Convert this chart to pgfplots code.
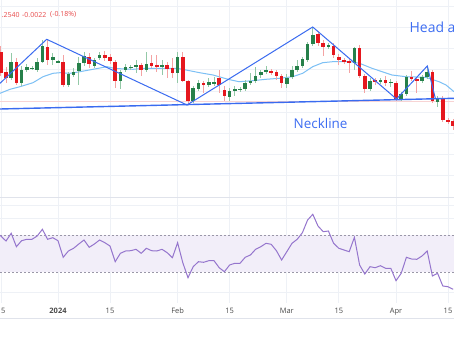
\documentclass[border=0pt]{standalone}
\usepackage{pgfplots}
\pgfplotsset{compat=1.18}
\usepackage{pgfplotstable}
\usepackage{fontspec}
\setmainfont{Open Sans}

\definecolor{cgreen}{HTML}{26804A}
\definecolor{cred}{HTML}{E5171E}
\definecolor{wgreen}{HTML}{93C9A7}
\definecolor{wred}{HTML}{F4A3A3}
\definecolor{gridc}{HTML}{EEF1F6}
\definecolor{sepc}{HTML}{E0E3EB}
\definecolor{tlblue}{HTML}{3A6BF0}
\definecolor{mablue}{HTML}{7CC0F5}
\definecolor{txtblue}{HTML}{3D6DF2}
\definecolor{rsic}{HTML}{9575CD}
\definecolor{bandc}{HTML}{F2EEF9}
\definecolor{dashc}{HTML}{9A97A8}
\definecolor{pinkc}{HTML}{F8D4D4}
\definecolor{toptxt}{HTML}{E84B4B}
\definecolor{tickc}{HTML}{4A4A4A}

% candles: i open high low close (pixel y, smaller = higher price)
\pgfplotstableread{
i o h l c
-9 78 53 80 62
-7 83 66 86 70
-6 70 64 72 67.5
-5 68.5 66 70 68
-4 70 58 72 62
-3 62 40 63 46
-1 60 53 65 57
0 62 60 63 61.5
2 85 72 87 74
3 75 68 77 72
4 71.5 57 85 63.5
5 63 52 66 56
7 66 58 68 60
8 58 52 60 55
12 81.5 70 89 72
13 70 64 72 67
14 67.5 65 70 67
15 67 60 73 65
17 70 52 72 64
20 66.5 60 75 65
23 73 52 83 57
26 101.5 86 103 88
27 89 80 91 83.5
29 85 78 87 82.5
30 84 77 86 82
33 97 88 101.5 91
34 91 86 96 89.5
35 89.5 87 92 89
36 89 80 91 83.5
37 83.5 73 85 81.5
38 81.5 67 83 76
39 75 70 78 72.5
40 72.5 66 74 70.5
44 84 74 88 78
45 77.5 66 79 70
46 70 60 72 66.5
47 66.5 57 68 59.5
48 60 42 62 44
49 44.5 27 46 35
52 46.5 43 49 45.5
57 62.7 47 70 48.5
60 89 78 91 81
62 82.5 78 84 80.5
64 82.5 79 87 82
66 99.3 92 101 94.5
67 94.5 75 96 77.3
70 81 75 83 77.3
71 77.3 66.5 79 72
73 102 96 106.7 99
}\upT

\pgfplotstableread{
i o h l c
-11 52 46 76 73
-10 72 67 83 78
-8 62 58 85 83
-2 47 40 65 60
1 62 55 87 85
6 57 53 68 64
9 55 51 61 58
10 57 54 64 61
11 62 60 88 81.5
16 65.5 63 76 70
18 63.5 55 68 66
19 65 55 72 67
21 65 62 78 69
22 68 58 78 73
24 57 52 82 81.5
25 81.5 80 105 101.5
28 83.5 81 93 85
31 78 70 93 85
32 90 86 101.5 96.5
41 71.5 69 75 73
42 72 70 80 76.5
43 76.5 74 88 83.5
50 34 31 46 43.5
51 43 40 56 47
53 46 43 58 55.5
54 57 54 65 60
55 60 58 64 61.7
56 60.7 58 73 63
58 48.5 45 78 76
59 76 74 93 89
61 80.5 78 85 82.5
63 80 76 86 83.3
65 83.3 81 101 99
68 77.3 71.5 81 79.5
69 79.3 77 93 81
72 72 70 103 101.5
74 99 96 122 120
75 120 118 124 121.7
76 121.5 119 130 126.5
}\downT

\pgfplotstableread{
i r
-12 232
-11 236
-10 241
-9 233.3
-8 246.7
-7 240.7
-6 239.3
-5 239.3
-4 236
-3 229.3
-2 239.3
-1 237.7
0 240.7
1 257.3
2 251
3 248.3
4 244
5 240
6 247.3
7 244
8 240
9 242.7
10 246
11 261.7
12 253.3
13 251
14 250.7
15 249.3
16 253.3
17 248.3
18 250.7
19 251
20 249.3
21 252.7
22 257.7
23 242.7
24 262.7
25 277.7
26 266.7
27 261.7
28 262.3
29 260.7
30 260.7
31 267.7
32 271.7
33 265
34 263.3
35 263.3
36 257.3
37 255
38 249.3
39 246.7
40 243.3
41 244.3
42 250.7
43 260
44 251.7
45 243.3
46 239.3
47 232.7
48 220
49 214.3
50 226
51 231.7
52 231
53 243.3
54 248.3
55 250
56 251.7
57 237.3
58 265
59 274
60 266.7
61 267.7
62 265.7
63 268.3
64 268.3
65 280.7
66 273.3
67 257.3
68 259
69 259.3
70 256
71 251
72 276
73 273.3
74 286
75 286.7
76 289.3
}\rsiT

\pgfplotsset{
  wick/.style={draw=none, mark=none, forget plot,
    error bars/.cd, y dir=both, y explicit, error mark=none,
    error bar style={draw=#1, line width=1bp}},
  body/.style={draw=none, mark=none, forget plot,
    error bars/.cd, y dir=both, y explicit, error mark=none,
    error bar style={draw=#1, line width=3.6bp}},
}

\begin{document}
\begin{tikzpicture}
\useasboundingbox (0,0) rectangle (454bp,341bp);
\fill[white] (0,0) rectangle (454bp,341bp);
\clip (0,0) rectangle (454bp,341bp);

% ---------- main price panel ----------
\begin{axis}[
  at={(0,341bp)}, anchor=north west,
  width=454bp, height=197bp, scale only axis,
  xmin=0, xmax=454, ymin=0, ymax=197, y dir=reverse,
  axis line style={draw=none},
  xtick={1,58,110,177.6,229.6,286.8,338.8,396,448}, xticklabels={},
  ytick={6.7,27.8,48.8,69.9,91,112,133.1,154.2,175.3}, yticklabels={},
  major tick length=0pt,
  grid=major, grid style={gridc, line width=0.8bp},
  clip=true,
]
\addplot[pinkc, line width=1bp] coordinates {(0,101.7) (454,101.7)};
\addplot[mablue, line width=1bp] coordinates {
(0,93.3) (10,89.3) (20,86.7) (33,82.7) (43,76.7) (53,73.3) (60,72.7) (70,73.3)
(80,71.7) (93,69.3) (107,66.7) (115,68.5) (133,69.3) (146,68.3) (166,68.3)
(178,68.5) (186,70) (199.7,72.7) (213,75) (228,79.3) (239,81.7) (252.7,80.7)
(266,79.3) (279.3,78.3) (292.7,76.7) (302.7,73.3) (312.7,66.7) (322.7,62.7)
(332.7,61.7) (341,61.5) (353,62) (360,63.5) (372,68.3) (392,75) (405.7,76.7)
(425.7,77.3) (439,81.7) (446,85) (454,91.7)};
% wicks
\addplot[wick=wgreen] table[x expr=58+5.2*\thisrow{i}, y expr=(\thisrow{h}+\thisrow{l})/2, y error expr=(\thisrow{l}-\thisrow{h})/2] {\upT};
\addplot[wick=wred] table[x expr=58+5.2*\thisrow{i}, y expr=(\thisrow{h}+\thisrow{l})/2, y error expr=(\thisrow{l}-\thisrow{h})/2] {\downT};
% bodies
\addplot[body=cgreen] table[x expr=58+5.2*\thisrow{i}, y expr=(\thisrow{o}+\thisrow{c})/2, y error expr={max(abs(\thisrow{o}-\thisrow{c})/2,0.6)}] {\upT};
\addplot[body=cred] table[x expr=58+5.2*\thisrow{i}, y expr=(\thisrow{o}+\thisrow{c})/2, y error expr={max(abs(\thisrow{o}-\thisrow{c})/2,0.6)}] {\downT};
% neckline
\addplot[tlblue, line width=1.4bp] coordinates {(0,109) (454,98.3)};
% head and shoulders outline
\addplot[tlblue, line width=1bp] coordinates {(0,83.3) (46.7,39.3) (187,105) (312.7,27) (396.5,99) (427.3,66) (435.5,99)};

\node[anchor=west, inner sep=0, text=toptxt, font=\fontsize{7}{8}\selectfont] at (axis cs:1.5,15) {.2540};
\node[anchor=west, inner sep=0, text=toptxt, font=\fontsize{7}{8}\selectfont] at (axis cs:22,15) {-0.0022};
\node[anchor=west, inner sep=0, text=toptxt, font=\fontsize{7}{8}\selectfont] at (axis cs:50,15) {(-0.18\%)};
\node[anchor=west, inner sep=0, text=txtblue, font=\fontsize{14}{16}\selectfont] at (axis cs:409.5,27.5) {Head and Shoulders};
\node[anchor=west, inner sep=0, text=txtblue, font=\fontsize{13.5}{15}\selectfont] at (axis cs:293.5,123) {Neckline};
\end{axis}

% ---------- RSI panel ----------
\begin{axis}[
  at={(0,144bp)}, anchor=north west,
  width=454bp, height=106bp, scale only axis,
  xmin=0, xmax=454, ymin=197, ymax=303, y dir=reverse,
  axis line style={draw=none},
  xtick={1,58,110,177.6,229.6,286.8,338.8,396,448},
  xticklabels={15,\textbf{2024},15,Feb,15,Mar,15,Apr,15},
  xticklabel style={font=\fontsize{7.5}{9}\selectfont, text=tickc, yshift=-1.5bp},
  ytick={205,218,292}, yticklabels={},
  major tick length=0pt,
  grid=major, grid style={gridc, line width=0.8bp},
  clip=true,
]
\addplot[sepc, line width=1bp] coordinates {(0,197.3) (454,197.3)};
\addplot[draw=none, fill=bandc] coordinates {(0,235) (454,235) (454,272) (0,272)} -- cycle;
\addplot[dashc, line width=0.8bp, dash pattern=on 2bp off 2bp] coordinates {(0,235) (454,235)};
\addplot[dashc, line width=0.8bp, dash pattern=on 2bp off 2bp] coordinates {(0,272) (454,272)};
\addplot[rsic, line width=1bp] table[x expr=58+5.2*\thisrow{i}, y=r] {\rsiT};
\end{axis}
\draw[sepc, line width=0.8bp] (0,23bp) -- (454bp,23bp);
\end{tikzpicture}
\end{document}
